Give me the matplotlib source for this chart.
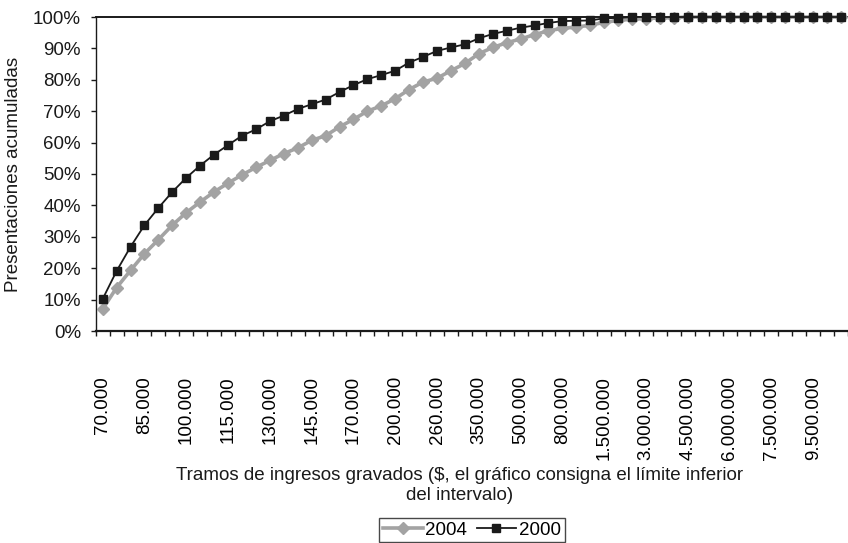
import matplotlib
matplotlib.use('Agg')
import matplotlib.pyplot as plt
import matplotlib.ticker as mticker
from matplotlib.lines import Line2D
import numpy as np

plt.rcParams['font.family'] = ['Liberation Sans', 'DejaVu Sans']
plt.rcParams['font.size'] = 13.5

GRAY = '#a3a3a3'
BLACK = '#1a1a1a'

# labelled lower bounds (one label every third bracket)
tick_labels = ['70.000', '85.000', '100.000', '115.000', '130.000', '145.000',
               '170.000', '200.000', '260.000', '350.000', '500.000', '800.000',
               '1.500.000', '3.000.000', '4.500.000', '6.000.000', '7.500.000',
               '9.500.000']
label_step = 3

# cumulative share of returns (%) per income bracket
pct_2004 = [7.0, 13.8, 19.3, 24.6, 29.1, 33.7, 37.7, 41.1, 44.3, 47.1,
            49.7, 52.1, 54.3, 56.5, 58.3, 60.7, 62.2, 65.0, 67.4, 70.0,
            71.7, 74.0, 76.9, 79.3, 80.5, 82.9, 85.2, 88.3, 90.3, 91.8,
            93.0, 94.4, 95.6, 96.4, 96.8, 97.4, 98.3, 98.9, 99.3, 99.5,
            99.7, 99.8, 100, 100, 100, 100, 100, 100, 100, 100,
            100, 100, 100, 100]
pct_2000 = [10.2, 19.1, 26.8, 33.7, 39.2, 44.3, 48.8, 52.7, 56.2, 59.2,
            62.2, 64.2, 66.8, 68.6, 70.7, 72.2, 73.7, 76.1, 78.3, 80.2,
            81.5, 82.9, 85.5, 87.3, 89.2, 90.3, 91.3, 93.2, 94.6, 95.6,
            96.6, 97.3, 98.1, 98.7, 98.8, 98.9, 99.6, 99.7, 100, 100,
            100, 100, 100, 100, 100, 100, 100, 100, 100, 100,
            100, 100, 100, 100]

W, H = 848, 543
fig = plt.figure(figsize=(W / 100, H / 100), dpi=100)
L, R, T, B = 95.7, 848, 17, 331
ax = fig.add_axes([L / W, 1 - B / H, (R - L) / W, (B - T) / H])

n = len(pct_2004)
xs = np.arange(n)
y04 = np.array(pct_2004) / 100
y00 = np.array(pct_2000) / 100

ax.plot(xs, y04, color=GRAY, lw=2.6, marker='D', ms=6.6, mfc=GRAY, mec=GRAY,
        label='2004', zorder=3, clip_on=False)
ax.plot(xs, y00, color=BLACK, lw=1.3, marker='s', ms=5.6, mfc=BLACK, mec=BLACK,
        label='2000', zorder=4, clip_on=False)

ax.set_xlim(-0.5, n - 0.5)
ax.set_ylim(0, 1)

# y axis
ax.yaxis.set_major_locator(mticker.MultipleLocator(0.1))
ax.yaxis.set_major_formatter(mticker.FuncFormatter(lambda v, _: f'{v*100:.0f}%'))
ax.tick_params(axis='y', direction='out', length=3.6, width=1, pad=7, colors=BLACK)

# x axis: tick marks between brackets, labels on bracket centres
ax.set_xticks(np.arange(n + 1) - 0.5)
ax.set_xticklabels([])
ax.set_xticks(xs[::label_step][:len(tick_labels)], minor=True)
ax.set_xticklabels(tick_labels, minor=True, rotation=90, va='top', ha='center')
ax.tick_params(axis='x', which='major', direction='out', length=3.6, width=1, colors=BLACK)
ax.tick_params(axis='x', which='minor', length=0, pad=32.5)

for side in ('left', 'bottom', 'top'):
    ax.spines[side].set_color(BLACK)
ax.spines['left'].set_linewidth(1.0)
ax.spines['bottom'].set_linewidth(1.6)
ax.spines['top'].set_linewidth(1.4)
ax.spines['right'].set_visible(False)

fig.text(14 / W, 1 - 174 / H, 'Presentaciones acumuladas', rotation=90,
         ha='center', va='center', color=BLACK)
fig.text(460 / W, 1 - 475 / H,
         'Tramos de ingresos gravados ($, el gráfico consigna el límite inferior',
         ha='center', va='center', color=BLACK)
fig.text(460 / W, 1 - 495 / H, 'del intervalo)', ha='center', va='center', color=BLACK)

handles = [Line2D([], [], color=GRAY, lw=2.6, marker='D', ms=6.6, mfc=GRAY, mec=GRAY),
           Line2D([], [], color=BLACK, lw=1.3, marker='s', ms=5.6, mfc=BLACK, mec=BLACK)]
leg = fig.legend(handles, ['2004', '2000'], ncol=2, loc='center',
                 bbox_to_anchor=(472 / W, 1 - 530 / H), frameon=True, fancybox=False,
                 handlelength=2.1, handletextpad=0.15, columnspacing=0.5,
                 borderpad=0.2, borderaxespad=0)
leg.get_frame().set_edgecolor(BLACK)
leg.get_frame().set_linewidth(1.0)

fig.savefig('out.png', dpi=100, facecolor='white')
